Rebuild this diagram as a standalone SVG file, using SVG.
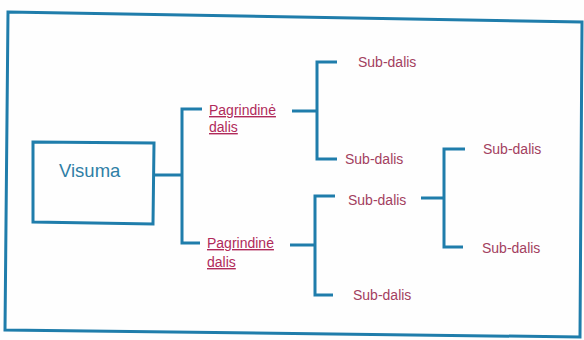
<svg xmlns="http://www.w3.org/2000/svg" width="584" height="340" viewBox="0 0 584 340">
<style>
.ln{fill:none;stroke:#1f7dab;stroke-width:3;stroke-linejoin:miter;stroke-linecap:butt}
.sub{font-family:"Liberation Sans",Arial,sans-serif;font-size:14px;fill:#a3405f}
.main{font-family:"Liberation Sans",Arial,sans-serif;font-size:14px;fill:#b02a5a;text-decoration:underline}
.vis{font-family:"Liberation Sans",Arial,sans-serif;font-size:18.5px;fill:#2f7fa6}
</style>
<rect width="584" height="340" fill="#fefefe"/>
<polygon id="frame" points="8,12 582,22 580,337 5,330" class="ln"/>
<g id="visuma">
<polygon points="33,142 154,143 153,224 33,222" class="ln"/>
<text x="59" y="177" class="vis">Visuma</text>
</g>
<g id="pagrindine1"><text class="main"><tspan x="209" y="115">Pagrindinė</tspan><tspan x="209" y="132">dalis</tspan></text></g>
<g id="pagrindine2"><text class="main"><tspan x="207" y="248">Pagrindinė</tspan><tspan x="207" y="267">dalis</tspan></text></g>
<g id="sub1"><text x="358" y="67" class="sub">Sub-dalis</text></g>
<g id="sub2"><text x="345" y="164" class="sub">Sub-dalis</text></g>
<g id="sub3"><text x="348" y="205" class="sub">Sub-dalis</text></g>
<g id="sub4"><text x="353" y="300" class="sub">Sub-dalis</text></g>
<g id="sub5"><text x="483" y="154" class="sub">Sub-dalis</text></g>
<g id="sub6"><text x="482" y="253" class="sub">Sub-dalis</text></g>
<g id="connectors">
<path class="ln" d="M154,175 H182"/>
<path class="ln" d="M202,109 H182 V243 H200"/>
<path class="ln" d="M292,111 H317"/>
<path class="ln" d="M337,62 H317 V159 H337"/>
<path class="ln" d="M290,245 H315"/>
<path class="ln" d="M335,196 H315 V295 H333"/>
<path class="ln" d="M421,198 H444"/>
<path class="ln" d="M465,149 H444 V247 H463"/>
</g>
</svg>
